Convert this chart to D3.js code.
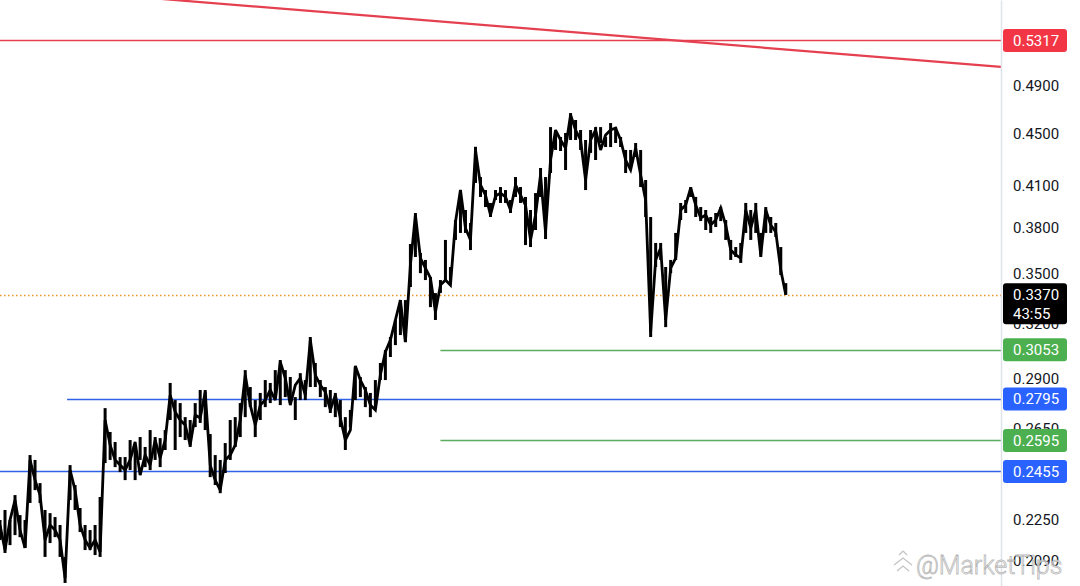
<!DOCTYPE html>
<html>
<head>
<meta charset="utf-8">
<script src="https://cdn.jsdelivr.net/npm/d3@7"></script>
<style>
  html, body { margin: 0; padding: 0; background: #ffffff; }
  svg { display: block; }
</style>
</head>
<body>
<svg id="chart" width="1080" height="586"></svg>
<script>
// ---------- DATA ----------
// closes, one per bar (bar index = position in array)
const closes = [
  0.2230,0.2132,0.2250,0.2332,0.2210,0.2140,0.2506,0.2417,0.2353,0.2171,
  0.2230,0.2210,0.2171,0.2028,0.2461,0.2374,0.2230,0.2171,0.2140,0.2171,
  0.2125,0.2692,0.2574,0.2506,0.2483,0.2461,0.2506,0.2588,0.2439,0.2528,
  0.2483,0.2597,0.2515,0.2597,0.2815,0.2731,0.2692,0.2668,0.2574,0.2716,
  0.2702,0.2831,0.2483,0.2417,0.2374,0.2506,0.2528,0.2574,0.2692,0.2918,
  0.2765,0.2668,0.2765,0.2790,0.2841,0.2790,0.2987,0.2902,0.2765,0.2866,
  0.2902,0.2815,0.3107,0.2918,0.2866,0.2831,0.2741,0.2815,0.2702,0.2597,
  0.2644,0.2966,0.2892,0.2841,0.2765,0.2741,0.2918,0.3041,0.3107,0.3221,
  0.3338,0.3096,0.3555,0.3888,0.3599,0.3535,0.3473,0.3267,0.3429,0.3460,
  0.3429,0.3839,0.4066,0.3798,0.3718,0.4369,0.4103,0.4030,0.3888,0.4023,
  0.4044,0.4016,0.3923,0.4103,0.4030,0.3958,0.3718,0.3888,0.4177,0.3771,
  0.4291,0.4528,0.4448,0.4384,0.4652,0.4528,0.4448,0.4140,0.4448,0.4528,
  0.4369,0.4488,0.4528,0.4544,0.4448,0.4291,0.4215,0.4384,0.4177,0.3994,
  0.3152,0.3587,0.3665,0.3221,0.3535,0.3599,0.3923,0.3958,0.4081,0.3958,
  0.3867,0.3888,0.3819,0.3853,0.3937,0.3819,0.3651,0.3619,0.3599,0.3923,
  0.3798,0.3923,0.3619,0.3923,0.3819,0.3771,0.3523,0.3370
];
// bar highs
const highs = [
  0.2250,0.2291,0.2250,0.2353,0.2270,0.2250,0.2528,0.2506,0.2404,0.2291,
  0.2278,0.2262,0.2230,0.2106,0.2483,0.2396,0.2299,0.2230,0.2210,0.2230,
  0.2345,0.2750,0.2635,0.2588,0.2519,0.2519,0.2597,0.2574,0.2611,0.2565,
  0.2644,0.2611,0.2606,0.2644,0.2877,0.2790,0.2775,0.2706,0.2692,0.2775,
  0.2841,0.2841,0.2625,0.2528,0.2506,0.2583,0.2692,0.2706,0.2775,0.2944,
  0.2856,0.2790,0.2826,0.2892,0.2877,0.2944,0.2998,0.2944,0.2908,0.2805,
  0.2928,0.2892,0.3124,0.2982,0.2892,0.2856,0.2841,0.2826,0.2790,0.2706,
  0.2741,0.2960,0.2908,0.2856,0.2826,0.2892,0.2982,0.3052,0.3124,0.3221,
  0.3338,0.3338,0.3691,0.3902,0.3632,0.3587,0.3479,0.3380,0.3460,0.3718,
  0.3542,0.3853,0.4066,0.3923,0.3833,0.4394,0.4162,0.4066,0.3973,0.4066,
  0.4088,0.4066,0.3994,0.4162,0.4088,0.4016,0.3923,0.4044,0.4230,0.4162,
  0.4552,0.4504,0.4472,0.4504,0.4668,0.4610,0.4528,0.4448,0.4528,0.4552,
  0.4552,0.4472,0.4585,0.4552,0.4472,0.4369,0.4369,0.4424,0.4369,0.4140,
  0.3874,0.3698,0.3698,0.3542,0.3587,0.3765,0.3973,0.3994,0.4088,0.4016,
  0.3944,0.3923,0.3874,0.3902,0.3944,0.3853,0.3718,0.3671,0.3698,0.3973,
  0.3923,0.3973,0.3765,0.3944,0.3874,0.3833,0.3671,0.3441
];
// bar lows
const lows = [
  0.2171,0.2121,0.2151,0.2190,0.2182,0.2140,0.2320,0.2374,0.2320,0.2106,
  0.2159,0.2182,0.2106,0.2010,0.2332,0.2291,0.2202,0.2132,0.2132,0.2113,
  0.2106,0.2492,0.2506,0.2474,0.2452,0.2417,0.2461,0.2417,0.2506,0.2474,
  0.2461,0.2506,0.2474,0.2551,0.2692,0.2551,0.2611,0.2597,0.2565,0.2658,
  0.2678,0.2644,0.2430,0.2396,0.2361,0.2448,0.2506,0.2565,0.2611,0.2706,
  0.2756,0.2611,0.2692,0.2755,0.2775,0.2805,0.2765,0.2805,0.2775,0.2692,
  0.2790,0.2790,0.2856,0.2856,0.2805,0.2755,0.2726,0.2706,0.2658,0.2551,
  0.2658,0.2790,0.2805,0.2755,0.2706,0.2755,0.2892,0.2892,0.3014,0.3079,
  0.3135,0.3096,0.3417,0.3606,0.3503,0.3460,0.3296,0.3221,0.3381,0.3460,
  0.3441,0.3718,0.3765,0.3765,0.3651,0.4118,0.4016,0.3944,0.3874,0.3994,
  0.3973,0.3973,0.3902,0.4016,0.3973,0.3684,0.3671,0.3785,0.4016,0.3724,
  0.4192,0.4369,0.4361,0.4215,0.4448,0.4448,0.4369,0.4066,0.4346,0.4291,
  0.4424,0.4392,0.4392,0.4424,0.4392,0.4192,0.4238,0.4314,0.4088,0.3874,
  0.3124,0.3542,0.3587,0.3180,0.3503,0.3587,0.3853,0.3902,0.4016,0.3874,
  0.3846,0.3785,0.3765,0.3805,0.3846,0.3718,0.3587,0.3606,0.3568,0.3765,
  0.3718,0.3765,0.3606,0.3765,0.3765,0.3738,0.3491,0.3370
];
const barsInView = 200;             // bars that fit before the price scale
const currentPrice = 0.3370;
const countdown = "43:55";

// horizontal levels
const levelValues = [0.5317, 0.3053, 0.2795, 0.2595, 0.2455];
const levelStartBar = [0, 88, 13.4, 88, 0];
const levelKinds  = ["red", "green", "blue", "green", "blue"];

// descending trend line (bar index, price)
const trendBars   = [32, 200];
const trendPrices = [0.5729, 0.5071];

// price scale
const priceMin = 0.1999, priceMax = 0.5717;
const tickValues = [0.4900, 0.4500, 0.4100, 0.3800, 0.3500, 0.3200, 0.2900, 0.2650, 0.2250, 0.2090];

const watermark = "@MarketTips";

// ---------- STYLE ----------
const W = 1080, H = 586, plotW = 1001;
const colors = { red: "#f23645", green: "#4caf50", blue: "#2962ff" };
const lineColors = { red: "#e5404f", green: "#5aad5e", blue: "#2f62e6" };
const FONT = "Roboto, 'Liberation Sans', Arial, sans-serif";

const svg = d3.select("#chart");
svg.append("rect").attr("width", W).attr("height", H).attr("fill", "#fff");

const x = d3.scaleLinear().domain([0, barsInView]).range([0, plotW]);
const y = d3.scaleLog().domain([priceMin, priceMax]).range([H, 0]);

svg.append("defs").append("clipPath").attr("id", "plotclip")
  .append("rect").attr("x", 0).attr("y", 0).attr("width", plotW).attr("height", H);

const plot = svg.append("g").attr("clip-path", "url(#plotclip)");

// level lines
levelValues.forEach((v, i) => {
  plot.append("line")
    .attr("x1", x(levelStartBar[i])).attr("x2", plotW)
    .attr("y1", Math.round(y(v)) + 0.5).attr("y2", Math.round(y(v)) + 0.5)
    .attr("stroke", lineColors[levelKinds[i]]).attr("stroke-width", 1.3);
});

// trend line
plot.append("line")
  .attr("x1", x(trendBars[0])).attr("y1", y(trendPrices[0]))
  .attr("x2", x(trendBars[1])).attr("y2", y(trendPrices[1]))
  .attr("stroke", "#e5404f").attr("stroke-width", 2.2);

// current price dotted line
plot.append("line")
  .attr("x1", 0).attr("x2", plotW)
  .attr("y1", Math.round(y(currentPrice)) + 0.5).attr("y2", Math.round(y(currentPrice)) + 0.5)
  .attr("stroke", "#f0912a").attr("stroke-width", 1.3)
  .attr("stroke-dasharray", "1.5,2.5");

// bar ranges (high-low)
plot.append("g").selectAll("line").data(highs).join("line")
  .attr("x1", (d, i) => x(i)).attr("x2", (d, i) => x(i))
  .attr("y1", d => y(d)).attr("y2", (d, i) => y(lows[i]))
  .attr("stroke", "#000").attr("stroke-width", 3);

// close line
const line = d3.line().x((d, i) => x(i)).y(d => y(d));
plot.append("path").datum(closes)
  .attr("d", line)
  .attr("fill", "none").attr("stroke", "#000").attr("stroke-width", 2.8)
  .attr("stroke-linejoin", "miter").attr("stroke-miterlimit", 3);

// price axis
const axis = d3.axisRight(y).tickValues(tickValues)
  .tickFormat(d3.format(".4f")).tickSize(0).tickPadding(12).tickSizeOuter(0);
const ag = svg.append("g").attr("transform", `translate(${plotW},0)`).call(axis);
ag.select(".domain").attr("stroke", "#e0e3eb").attr("stroke-width", 1.5);
ag.selectAll("text").attr("fill", "#131722").style("font-family", FONT).style("font-size", "15px");

// level labels
function tag(v, fill, lines) {
  const cy = y(v);
  const h = lines.length > 1 ? 41 : 23;
  const top = lines.length > 1 ? cy - 11.5 : cy - h / 2;
  svg.append("rect").attr("x", plotW + 2).attr("y", top).attr("width", 64).attr("height", h)
    .attr("rx", 3).attr("fill", fill);
  lines.forEach((t, k) => {
    svg.append("text").attr("x", plotW + 12).attr("y", top + 11.5 + k * 19)
      .attr("dy", "0.35em").attr("fill", "#fff")
      .style("font-family", FONT).style("font-size", "15px").text(t);
  });
}
levelValues.forEach((v, i) => tag(v, colors[levelKinds[i]], [d3.format(".4f")(v)]));
tag(currentPrice, "#000", [d3.format(".4f")(currentPrice), countdown]);

// watermark
const wm = svg.append("g").attr("transform", "translate(894,565)");
wm.append("path")
  .attr("d", "M0,0 L9,-7 L18,0 M3,6 L9,1 L15,6 M9,-14 L13,-10 M9,-14 L5,-10")
  .attr("fill", "none").attr("stroke", "#c4c4c4").attr("stroke-width", 1.3);
wm.append("text").attr("x", 22).attr("y", 9)
  .attr("fill", "#ffffff").attr("fill-opacity", 0.6)
  .attr("stroke", "#b9b9b9").attr("stroke-width", 0.8)
  .style("font-family", FONT).style("font-size", "25px").style("font-weight", 300)
  .text(watermark);
</script>
</body>
</html>
